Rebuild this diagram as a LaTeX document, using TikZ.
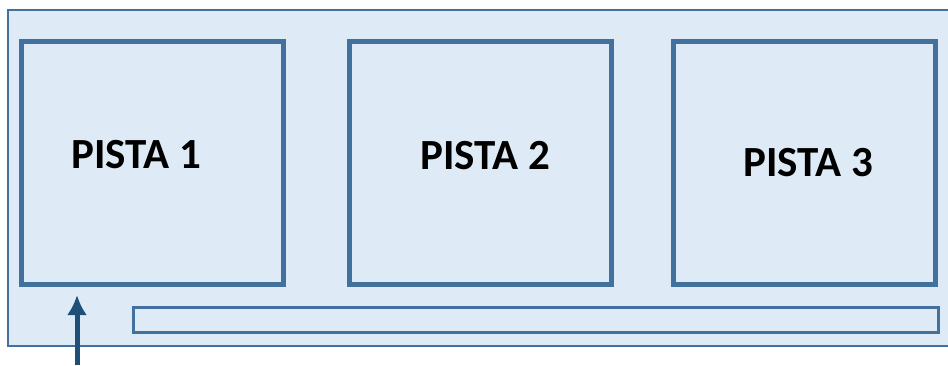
\documentclass[tikz,border=0pt]{standalone}
\usepackage{fontspec}
\setmainfont{Carlito}
\usepackage{tikz}
\usetikzlibrary{calc,arrows.meta}
\definecolor{borde}{HTML}{41719C}
\definecolor{fondo}{HTML}{DEEBF7}
\definecolor{flecha}{HTML}{1F4E79}

\begin{document}
\begin{tikzpicture}[inner sep=0pt,outer sep=0pt,x=1pt,y=1pt,
    pista/.style={draw=borde, line width=5pt, fill=fondo, minimum width=262pt, minimum height=242pt},
    rotulo/.style={font=\fontsize{43}{47}\selectfont\bfseries, text=black}]
    \useasboundingbox (0,0) rectangle (948,365);
    % recinto
    \node[draw=borde, line width=2pt, fill=fondo, anchor=north west,
      minimum width=960pt, minimum height=336pt] (recinto) at (8, 355) {};

    % pistas
	\node[pista] (pista_1) at (152, 202) {};
	\node[pista] (pista_2) at (480, 202) {};
	\node[pista] (pista_3) at (804, 202) {};

    \node[rotulo] (pista_1_txt) at ($(pista_1.center) + (-16pt, 8pt)$) {PISTA 1};
    \node[rotulo] (pista_2_txt) at ($(pista_2.center) + (5pt, 7pt)$) {PISTA 2};
    \node[rotulo] (pista_3_txt) at ($(pista_3.center) + (4pt, 0pt)$) {PISTA 3};

    % pasillo
    \node[draw=borde, line width=2.5pt, fill=fondo,
      minimum width=805pt, minimum height=25pt] (pasillo) at (536, 45) {};

    % entrada
    \coordinate (entrada) at (77, 0);
    \draw[flecha, line width=5pt, -{Latex[length=20pt, width=20pt]}, shorten >=11pt]
      (entrada) -- (entrada |- pista_1.south);
\end{tikzpicture}
\end{document}
